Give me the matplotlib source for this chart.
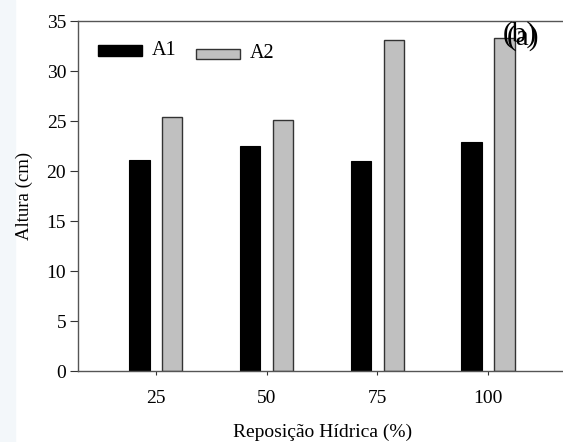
import matplotlib.pyplot as plt
import numpy as np
from matplotlib.patches import Rectangle

# data
reposicao = [25, 50, 75, 100]
tick_labels = ['25', '50', '75', '100']
a1 = [21.1, 22.5, 21.0, 22.9]
a2 = [25.4, 25.1, 33.1, 33.3]

serif = ['Liberation Serif', 'DejaVu Serif']
plt.rcParams['font.family'] = serif

fig = plt.figure(figsize=(5.63, 4.42), dpi=100)
# faint tinted strip on the left edge of the scan
fig.patches.append(Rectangle((0, 0), 0.027, 1, transform=fig.transFigure,
                             color='#f3f7fa', zorder=-1))
ax = fig.add_axes([0.1385, 0.1606, 0.870, 0.7908])

x = np.array(reposicao)
off = 3.7
w = 4.6
ax.bar(x - off, a1, width=w, color='black', edgecolor='black', linewidth=0.8)
ax.bar(x + off, a2, width=w, color='#c0c0c0', edgecolor='#333333', linewidth=1.0)

ax.set_xlim(7.4, 118)
ax.set_ylim(0, 35)
ax.set_xticks(reposicao)
ax.set_xticklabels(tick_labels, fontsize=14)
ax.set_yticks(range(0, 36, 5))
ax.set_yticklabels([str(v) for v in range(0, 36, 5)], fontsize=14)
ax.tick_params(axis='x', direction='out', length=3, width=0.8, pad=11, colors='#333333', labelcolor='black')
ax.tick_params(axis='y', direction='out', length=6, width=0.8, pad=2.5, colors='#333333', labelcolor='black')
for s in ax.spines.values():
    s.set_color('#555555')
    s.set_linewidth(1.0)
ax.spines['right'].set_visible(False)

ax.set_xlabel('Reposição Hídrica (%)', fontsize=14, labelpad=12)
ax.set_ylabel('Altura (cm)', fontsize=13.5, labelpad=10)

# legend drawn by hand to match the offset entries
ax.add_patch(Rectangle((0.041, 0.901), 0.090, 0.031, transform=ax.transAxes,
                       facecolor='black', edgecolor='black', clip_on=False))
ax.text(0.151, 0.918, 'A1', transform=ax.transAxes, fontsize=14.5, va='center')
ax.add_patch(Rectangle((0.241, 0.893), 0.090, 0.029, transform=ax.transAxes,
                       facecolor='#c0c0c0', edgecolor='#333333', clip_on=False))
ax.text(0.351, 0.907, 'A2', transform=ax.transAxes, fontsize=14.5, va='center')

ax.text(0.903, 0.962, '(b)', transform=ax.transAxes, fontsize=21, va='center', ha='center')
ax.text(0.909, 0.955, '(a)', transform=ax.transAxes, fontsize=21, va='center', ha='center')

fig.savefig('out.png', dpi=100)
